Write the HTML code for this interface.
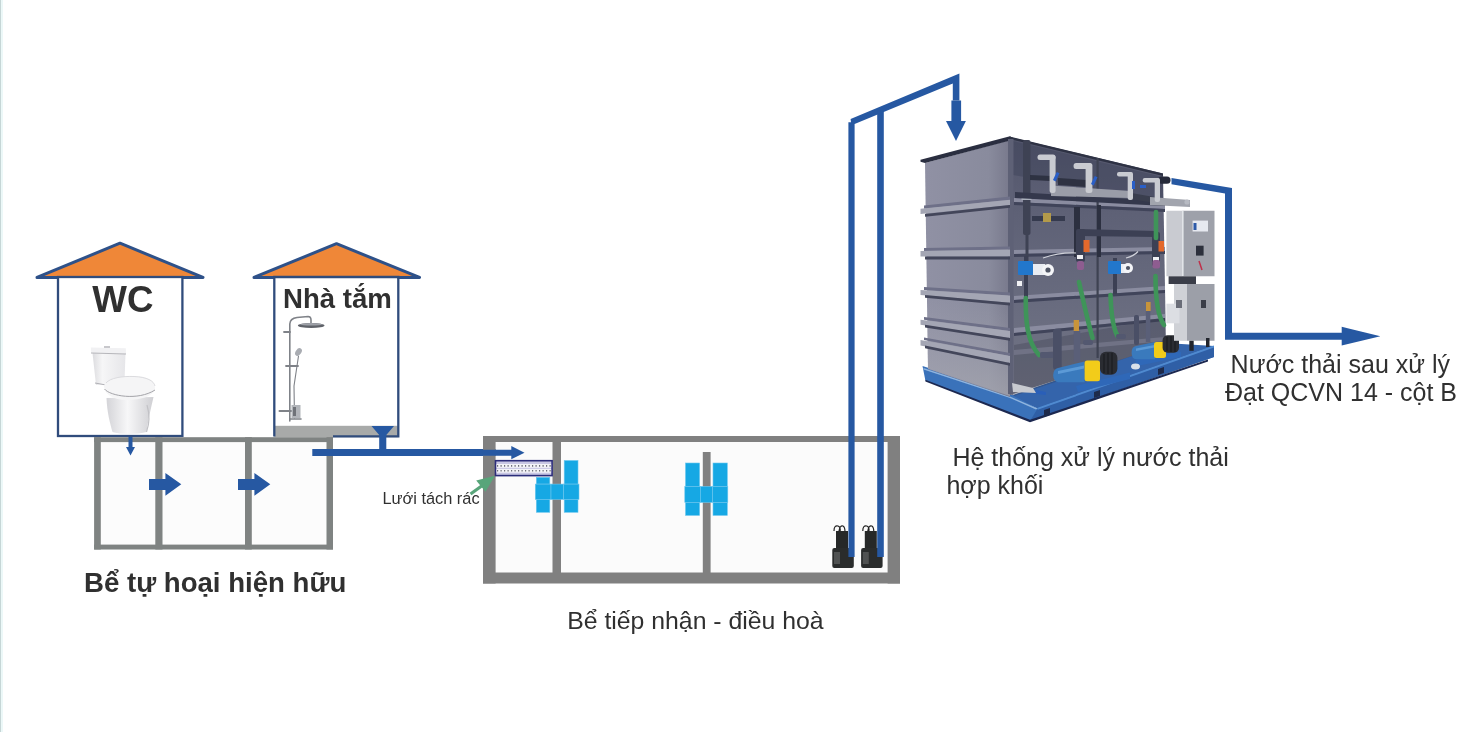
<!DOCTYPE html>
<html><head><meta charset="utf-8">
<style>
html,body{margin:0;padding:0;background:#fff;}
body{width:1472px;height:732px;overflow:hidden;position:relative;font-family:"Liberation Sans",sans-serif;}
svg{position:absolute;left:0;top:0;will-change:transform;}
</style></head>
<body>
<svg width="1472" height="732" viewBox="0 0 1472 732">
<!-- left edge -->
<rect x="0" y="0" width="1" height="732" fill="#c6d6d6"/>
<rect x="1" y="0" width="2" height="732" fill="#ecf8f8"/>

<!-- WC house -->
<polygon points="37,277.4 120,243.2 203,277.4" fill="#ef8738" stroke="#2e5189" stroke-width="3" stroke-linejoin="round"/>
<rect x="58" y="277" width="124.4" height="159" fill="#fff" stroke="#304c7c" stroke-width="2.3"/>
<!-- toilet -->
<g>
<defs>
<linearGradient id="tg" x1="0" y1="0" x2="1" y2="0"><stop offset="0" stop-color="#dcdcdf"/><stop offset="0.3" stop-color="#f6f6f7"/><stop offset="1" stop-color="#e6e6e9"/></linearGradient>
<linearGradient id="pg" x1="0" y1="0" x2="1" y2="0"><stop offset="0" stop-color="#d4d4d8"/><stop offset="0.45" stop-color="#f7f7f8"/><stop offset="1" stop-color="#cfcfd3"/></linearGradient>
</defs>
<path d="M92.5,353 L125.5,354 L124.5,381 L110,384 L96,385 Z" fill="url(#tg)"/>
<path d="M90.8,347.5 L125.8,348.2 L126,354 L91.2,353.2 Z" fill="#f1f1f3"/>
<path d="M91,353 L126,354" stroke="#a6a6ab" stroke-width="0.8" fill="none"/>
<rect x="104" y="346" width="6" height="2" fill="#c8c8cc"/>
<path d="M95,383 L106,385" stroke="#b0b0b5" stroke-width="1" fill="none"/>
<path d="M106.5,398 C107,412 110,423 112.5,432 C120,434.5 138,434.5 146.5,432 C148,420 151,408 153.5,397 Z" fill="url(#pg)"/>
<path d="M104,386 C105,379 118,375.5 134,376 C149,376.5 155.5,381 155,388 C154.5,396 141,400 127,400 C113,400 104,394 104,386 Z" fill="#f5f5f6"/>
<path d="M104.5,389 C110,396 138,401 155,390" stroke="#a4a4a9" stroke-width="1" fill="none"/>
<path d="M106,383 C110,378 122,376 134,376.5 C147,377 154,381 155,386" stroke="#d0d0d4" stroke-width="0.7" fill="none"/>
<path d="M147,405 C150,415 149,425 146.5,432" stroke="#c2c2c6" stroke-width="1.2" fill="none"/>
</g>
<text x="92.3" y="312" font-family="Liberation Sans" font-weight="bold" font-size="37.8" textLength="61.2" lengthAdjust="spacingAndGlyphs" fill="#303030">WC</text>

<!-- Bath house -->
<polygon points="254,277.4 336.5,243.7 419.5,277.4" fill="#ef8738" stroke="#2e5189" stroke-width="3" stroke-linejoin="round"/>
<rect x="274" y="277" width="123.5" height="159" fill="#fff"/>
<rect x="274.3" y="425.8" width="124" height="11.4" fill="#a8aaa9"/>
<path d="M333,436.4 L398.3,436.4 L398.3,277 L274.3,277 L274.3,436.4" fill="none" stroke="#304c7c" stroke-width="2.3"/>
<!-- shower -->
<g fill="none" stroke="#7f8288" stroke-linecap="round">
<path d="M289.8,421 L289.8,324 Q290,318.5 297,317.5 L308,316.5 Q311,316.5 311,320 L311,323" stroke-width="1.6"/>
<path d="M294.5,418 L294,386 L298.5,356" stroke-width="1.1"/>
<line x1="284" y1="332" x2="290" y2="332" stroke-width="1.8"/>
<line x1="286" y1="366" x2="298" y2="366" stroke-width="1.8"/>
<line x1="279.5" y1="411" x2="292" y2="411" stroke-width="2"/>
<line x1="290" y1="419" x2="301" y2="419" stroke-width="1.6"/>
</g>
<ellipse cx="311.2" cy="325.5" rx="13.3" ry="2.6" fill="#5f6269"/>
<ellipse cx="311.2" cy="324.3" rx="11" ry="1.2" fill="#9ea1a8"/>
<ellipse cx="298.5" cy="352" rx="2.8" ry="4.2" fill="#a9acb2" transform="rotate(35 298.5 352)"/>
<rect x="291.5" y="405" width="9" height="13" fill="#b2b5ba"/>
<rect x="293" y="407" width="3" height="9" fill="#6f7278"/>
<text x="283" y="308" font-family="Liberation Sans" font-weight="bold" font-size="27.6" fill="#303030">Nhà tắm</text>

<!-- Septic tank -->
<rect x="94.1" y="437.2" width="238.9" height="112.3" fill="#fcfcfc"/>
<g fill="#7f8382">
<rect x="94.1" y="437.2" width="238.9" height="4.9"/>
<rect x="94.1" y="544.6" width="238.9" height="4.9"/>
<rect x="94.1" y="437.2" width="6.7" height="112.3"/>
<rect x="326.5" y="437.2" width="6.5" height="112.3"/>
<rect x="155.3" y="437.2" width="7.2" height="112.3"/>
<rect x="245" y="437.2" width="6.8" height="112.3"/>
</g>
<polygon points="149,479 165.4,479 165.4,473 181.3,484.3 165.4,495.7 165.4,490 149,490" fill="#2658a2"/>
<polygon points="238,479 254.4,479 254.4,473 270.3,484.3 254.4,495.7 254.4,490 238,490" fill="#2658a2"/>
<polygon points="128.5,437 132.5,437 132.5,447 135,447 130.5,455.6 126,447 128.5,447" fill="#2658a2"/>
<text x="84" y="592" font-family="Liberation Sans" font-weight="bold" font-size="27.6" fill="#303030">Bể tự hoại hiện hữu</text>

<!-- funnel + pipe -->
<path d="M371.5,426 L394,426 L386.3,435 L386.3,452 L379.2,452 L379.2,435 Z" fill="#2658a2"/>
<polygon points="312.3,449 511.3,449 511.3,446 524.5,452.6 511.3,459.3 511.3,456 312.3,456" fill="#2658a2"/>

<!-- Receiving tank -->
<rect x="495.6" y="442" width="392" height="130.5" fill="#fbfbfb"/>
<rect x="483" y="436" width="417" height="6" fill="#808080"/>
<rect x="483" y="436" width="12.6" height="147.5" fill="#808080"/>
<rect x="887.6" y="436" width="12.4" height="147.5" fill="#808080"/>
<rect x="483" y="572.5" width="417" height="11" fill="#808080"/>
<rect x="552.5" y="436" width="8.5" height="140" fill="#808080"/>
<rect x="702.8" y="452" width="7.8" height="124" fill="#808080"/>
<!-- pipe arrow over left wall -->
<polygon points="483,449.7 511.3,449.7 511.3,446 524.5,452.8 511.3,459.3 511.3,455.8 483,455.8" fill="#2658a2"/>

<!-- screen -->
<rect x="495.5" y="460.7" width="56.6" height="14.9" fill="#c9c7e4" stroke="#2c2d7a" stroke-width="1.6"/>
<rect x="496.6" y="464" width="54.5" height="3.8" fill="#f4f4f8"/>
<rect x="496.6" y="468.9" width="54.5" height="3.8" fill="#f4f4f8"/>
<line x1="497" y1="465.9" x2="551" y2="465.9" stroke="#6f6f7a" stroke-width="1.6" stroke-dasharray="1.2 2.3"/>
<line x1="497" y1="470.8" x2="551" y2="470.8" stroke="#6f6f7a" stroke-width="1.6" stroke-dasharray="1.2 2.3"/>

<!-- green arrow -->
<line x1="470.5" y1="494" x2="483" y2="485" stroke="#58a57a" stroke-width="3.2"/>
<polygon points="494.9,475.7 476.2,480.5 485.5,491.8" fill="#58a57a"/>
<text x="382.5" y="504" font-family="Liberation Sans" font-size="16.35" fill="#303030">Lưới tách rác</text>

<!-- cyan blocks left group -->
<g fill="#16a8e4" stroke="#6cc6ee" stroke-width="0.6">
<rect x="536.3" y="477.3" width="13.5" height="6.8"/>
<rect x="564.2" y="460.5" width="13.8" height="23.6"/>
<rect x="535.3" y="484.1" width="15.7" height="15.3"/>
<rect x="551" y="484.1" width="12.5" height="15.3"/>
<rect x="563.5" y="484.1" width="15.5" height="15.3"/>
<rect x="536.3" y="499.4" width="13.5" height="12.9"/>
<rect x="564.2" y="499.4" width="13.8" height="12.9"/>
</g>
<!-- cyan blocks right group -->
<g fill="#16a8e4" stroke="#6cc6ee" stroke-width="0.6">
<rect x="685.5" y="463" width="14.1" height="23.4"/>
<rect x="713" y="463" width="14.3" height="23.4"/>
<rect x="684.8" y="486.4" width="15.5" height="16"/>
<rect x="700.3" y="486.4" width="12.2" height="16"/>
<rect x="712.5" y="486.4" width="15.3" height="16"/>
<rect x="685.5" y="502.4" width="14.1" height="13"/>
<rect x="713" y="502.4" width="14.3" height="13"/>
</g>

<!-- pumps -->
<g id="pump1">
<path d="M834,531 q0,-6 4,-5 q3,1 2,6 M839,531 q1,-6 4,-5 q2,1 2,6" fill="none" stroke="#222" stroke-width="1.2"/>
<rect x="836" y="531" width="12" height="17" fill="#262828"/>
<rect x="832.3" y="548" width="21.5" height="20" rx="2" fill="#2a2c2c"/>
<rect x="834" y="552" width="6" height="12" fill="#505252"/>
</g>
<g transform="translate(28.8,0)">
<path d="M834,531 q0,-6 4,-5 q3,1 2,6 M839,531 q1,-6 4,-5 q2,1 2,6" fill="none" stroke="#222" stroke-width="1.2"/>
<rect x="836" y="531" width="12" height="17" fill="#262828"/>
<rect x="832.3" y="548" width="21.5" height="20" rx="2" fill="#2a2c2c"/>
<rect x="834" y="552" width="6" height="12" fill="#505252"/>
</g>

<!-- vertical pipes -->
<path d="M848.4,557 L848.4,122.2 L851,122.2 L850.6,118.9 L959.4,73.6 L959.4,100.6 L952.8,100.6 L952.8,83.4 L854.6,123.9 L854.6,557 Z" fill="#2658a2"/>
<rect x="877.2" y="111" width="6.6" height="446" fill="#2658a2"/>
<polygon points="951.4,100.6 961.1,100.6 961.1,121 965.9,121 956,141 946,121 951.4,121" fill="#2658a2"/>

<!-- output pipe -->
<path d="M1171.5,178 L1232,187.9 L1232,332.7 L1341.7,332.7 L1341.7,326.8 L1380.4,336.2 L1341.7,345.6 L1341.7,339.7 L1225,339.7 L1225,193.6 L1171.5,184.2 Z" fill="#2658a2"/>

<text x="1230.6" y="372.8" font-family="Liberation Sans" font-size="25" fill="#303030">Nước thải sau xử lý</text>
<text x="1225" y="400.8" font-family="Liberation Sans" font-size="25" fill="#303030">Đạt QCVN 14 - cột B</text>
<text x="952.4" y="466" font-family="Liberation Sans" font-size="25" fill="#303030">Hệ thống xử lý nước thải</text>
<text x="946.4" y="493.8" font-family="Liberation Sans" font-size="25" fill="#303030">hợp khối</text>
<text x="567.2" y="629.4" font-family="Liberation Sans" font-size="24.8" fill="#303030">Bể tiếp nhận - điều hoà</text>

<!-- TREATMENT UNIT -->
<g id="unit">
<defs>
<linearGradient id="lf" x1="0" y1="0" x2="1" y2="0">
<stop offset="0" stop-color="#9091a4"/><stop offset="0.75" stop-color="#898b9d"/><stop offset="1" stop-color="#78798c"/>
</linearGradient>
<linearGradient id="rf" x1="0" y1="0" x2="0" y2="1">
<stop offset="0" stop-color="#52556b"/><stop offset="0.3" stop-color="#5e6176"/><stop offset="0.7" stop-color="#6a6d80"/><stop offset="1" stop-color="#727484"/>
</linearGradient>
</defs>
<!-- blue base -->
<polygon points="1010,396 1165,343 1214,346 1037.6,408.6" fill="#3464ab"/>
<polygon points="922.5,366 1010,394 1037.6,408.6 1214,346 1214,357 1030,421 925.4,380.6" fill="#3a72ba"/>
<polygon points="1037.6,408.6 1214,346 1214,357 1030,421" fill="#2f5fa6"/>
<polygon points="923.5,368 1010,396.5 1037.6,408.6 1036,409.5 1010,398 923.5,369.5" fill="#8fb4de"/>
<polygon points="1037.6,407.8 1214,345.5 1214,347.5 1037.6,409.8" fill="#4f8ad0"/>
<polygon points="925.4,379.8 1030,419.8 1208,359.5 1208,361.5 1030,422.3 925.4,381.5" fill="#1c2850"/>
<rect x="1044" y="410" width="6" height="7" fill="#1e2a4a" transform="skewY(-19)" transform-origin="1044 410"/>
<rect x="1094" y="392" width="6" height="6" fill="#1e2a4a" transform="skewY(-19)" transform-origin="1094 392"/>
<rect x="1158" y="369" width="6" height="6" fill="#1e2a4a" transform="skewY(-19)" transform-origin="1158 369"/>
<!-- right face -->
<polygon points="1009.5,137 1163,173.5 1166,345 1010,395" fill="url(#rf)"/>
<!-- shadow zones on right face -->
<polygon points="1013,141 1163,177 1163,200 1013,175" fill="#3a3e56" opacity="0.4"/>
<!-- left face -->
<polygon points="925,163 1010,140 1010,397 928,369" fill="url(#lf)"/>
<defs><linearGradient id="lfv" x1="0" y1="0" x2="0" y2="1"><stop offset="0" stop-color="#a6a7b4" stop-opacity="0"/><stop offset="0.6" stop-color="#a6a7b4" stop-opacity="0"/><stop offset="1" stop-color="#a9aab2" stop-opacity="0.7"/></linearGradient></defs>
<polygon points="925,163 1010,140 1010,396 928,368.5" fill="url(#lfv)"/>
<polygon points="920.5,159.8 1010,136.3 1013,138 1013,139.8 925,163 920.5,161.8" fill="#2a2e40"/>
<polygon points="1163,173.5 1009.5,136.5 1009.5,139 1163,176" fill="#2e3244"/>
<!-- corner column -->
<polygon points="1008,139 1013.5,139 1013.5,395 1008,394" fill="#5e6176"/>
<!-- ribs left face -->
<g fill="#6e7088">
<polygon points="924,205.5 1010,196.5 1010,199.7 924,208.7"/>
<polygon points="924,248 1010,246.5 1010,249.5 924,251"/>
<polygon points="924,287 1010,292.5 1010,295.6 924,290"/>
<polygon points="924,317 1010,328 1010,331 924,319.8"/>
<polygon points="924,337.5 1010,353 1010,356 924,340"/>
</g>
<g fill="#a4a6b4">
<polygon points="920.5,208.7 1010,199.7 1010,205 920.5,214"/>
<polygon points="920.5,251 1010,249.5 1010,256.6 920.5,256.6"/>
<polygon points="920.5,290 1010,295.6 1010,302.7 920.5,295"/>
<polygon points="920.5,319.8 1010,331 1010,338 920.5,324.8"/>
<polygon points="920.5,340 1010,356 1010,363 920.5,345.4"/>
</g>
<g fill="#43465a">
<polygon points="925,214 1010,205 1010,207.8 925,216.8"/>
<polygon points="925,256.6 1010,256.6 1010,259.4 925,259.4"/>
<polygon points="925,295 1010,302.7 1010,305.5 925,297.8"/>
<polygon points="925,324.8 1010,338 1010,340.8 925,327.6"/>
<polygon points="925,345.4 1010,363 1010,365.8 925,348.2"/>
</g>
<!-- ribs right face -->
<g fill="#8a8ca0">
<polygon points="1014,198 1165,204.5 1165,209 1014,202"/>
<polygon points="1014,250 1165,247 1165,251 1014,254"/>
<polygon points="1014,296 1165,286 1165,290 1014,300"/>
<polygon points="1014,328 1165,314 1165,318 1014,333"/>
<polygon points="1014,350 1165,337 1165,341 1014,355"/>
</g>
<g fill="#40445a">
<polygon points="1014,202 1165,209 1165,212 1014,205"/>
<polygon points="1014,254 1165,251 1165,254 1014,257"/>
<polygon points="1014,300 1165,290 1165,293 1014,303"/>
<polygon points="1014,333 1165,318 1165,321 1014,336"/>
</g>
<!-- shadow behind pumps -->
<polygon points="1014,345 1165,318 1165,345 1014,396" fill="#34374a" opacity="0.3"/>
<!-- vertical seam right face -->
<rect x="1096.5" y="158" width="2.2" height="200" fill="#3e4252"/>
<!-- dark vertical pipe -->
<rect x="1023" y="140" width="7.5" height="95" fill="#3e4254" rx="2"/>
<rect x="1025.5" y="235" width="3" height="40" fill="#3e4254"/>
<rect x="1021.5" y="197" width="10" height="3" fill="#aab0bc"/>
<polygon points="1015,192 1165,201 1165,206 1015,198" fill="#34384c"/>
<!-- top pipes -->
<polygon points="1030,175 1051,176 1051,181 1030,180" fill="#2e3242"/>
<polygon points="1058,178 1087,180 1087,187 1058,185" fill="#2e3242"/>
<polygon points="1051,185.6 1131,191 1131,198 1051,196" fill="#9a9da8"/>
<polygon points="1131,193 1166,199 1166,205 1131,199" fill="#3a3e4e"/>
<polygon points="1150,197 1190,200 1190,207 1150,205" fill="#a2a5ae"/>
<circle cx="1187" cy="202" r="2.6" fill="#b7bac2"/>
<rect x="1158" y="176.4" width="12.5" height="7.4" rx="3.5" fill="#262a3a"/>
<g fill="#c9cbd1">
<rect x="1037.5" y="154.5" width="18" height="5.5" rx="2.5"/>
<rect x="1049.6" y="155" width="6" height="38" rx="2.5"/>
<rect x="1073.6" y="163" width="18" height="6" rx="2.5"/>
<rect x="1085.6" y="163" width="6.8" height="30" rx="2.5"/>
<rect x="1117" y="172" width="15" height="4.6" rx="2"/>
<rect x="1127.7" y="172" width="5.3" height="28" rx="2"/>
<rect x="1142.7" y="178" width="16.5" height="4.6" rx="2"/>
<rect x="1154.7" y="178" width="5.3" height="24" rx="2"/>
</g>
<g fill="#2a5fc8">
<rect x="1055" y="172" width="3" height="9" transform="rotate(25 1056 176)"/>
<rect x="1093" y="176" width="3" height="9" transform="rotate(25 1094 180)"/>
<rect x="1132" y="181" width="3" height="8"/>
<rect x="1140" y="185" width="6" height="3"/>
</g>
<!-- valves row -->
<rect x="1032" y="216" width="33" height="5" fill="#353a4e"/>
<rect x="1043" y="213" width="8" height="9" fill="#b39a4a"/>
<rect x="1074" y="207" width="6" height="50" fill="#2c3040"/>
<rect x="1097" y="205" width="4" height="52" fill="#2c3040"/>
<path d="M1043,258 Q1060,252 1077,253" stroke="#d0d2da" stroke-width="1.2" fill="none"/>
<path d="M1126,258 Q1134,256 1138,251.5" stroke="#d0d2da" stroke-width="1.2" fill="none"/>
<!-- horizontal dark pipe -->
<polygon points="1078,229 1157,231 1157,237 1078,236" fill="#3c4054"/>
<rect x="1076" y="229" width="9" height="33" fill="#3c4054" rx="2"/>
<rect x="1152" y="232" width="8" height="34" fill="#3c4054" rx="2"/>
<rect x="1083.5" y="240" width="6" height="12" fill="#e3692c"/>
<rect x="1158.5" y="241" width="5.5" height="10.5" fill="#e3692c"/>
<rect x="1077" y="255" width="6" height="4" fill="#f0f0f4"/>
<rect x="1153" y="257" width="6" height="4" fill="#f0f0f4"/>
<rect x="1077" y="261" width="7" height="9" fill="#8e5d90" rx="2"/>
<rect x="1152.5" y="260" width="7.5" height="8.5" fill="#8e5d90" rx="2"/>
<!-- flow meters -->
<rect x="1024" y="256" width="4" height="44" fill="#3c4054"/>
<rect x="1113" y="258" width="4" height="36" fill="#3c4054"/>
<rect x="1018" y="261" width="15" height="14" fill="#2277cc" rx="1"/>
<rect x="1033" y="264" width="12" height="11" fill="#e9ecf2"/>
<circle cx="1048" cy="270" r="6" fill="#f4f5f8"/>
<circle cx="1048" cy="270" r="2.6" fill="#505666"/>
<rect x="1108" y="261" width="13" height="13" fill="#2277cc" rx="1"/>
<rect x="1121" y="264" width="8" height="9" fill="#e9ecf2"/>
<circle cx="1128" cy="268" r="5" fill="#f4f5f8"/>
<circle cx="1128" cy="268" r="2.1" fill="#505666"/>
<rect x="1017" y="281" width="5" height="5" fill="#f0f0f4"/>
<!-- hoses -->
<g fill="none" stroke="#3f9459" stroke-width="4.6" stroke-linecap="round">
<path d="M1025.8,298 C1025.5,320 1027,342 1039,355"/>
<path d="M1079,282 C1083,300 1088,322 1092.5,338"/>
<path d="M1110.5,295 C1111,312 1113,328 1117.5,336"/>
<path d="M1155.5,276 C1155.5,295 1157,315 1164,325"/>
<path d="M1156,212 L1156,238"/>
</g>
<!-- grey fittings near pumps -->
<g fill="#535870">
<rect x="1040" y="352" width="14" height="6" rx="2"/>

<rect x="1083" y="340" width="10" height="5" rx="2"/>

<rect x="1116" y="334" width="10" height="5" rx="2"/>
</g>

<!-- nozzle -->
<polygon points="1012,383 1033,388 1036,393 1013,392" fill="#c8cad0"/>
<polygon points="1036,390 1046,392 1046,395 1036,394" fill="#2a5fb8"/>
<!-- pump 1 -->
<rect x="1053" y="328.7" width="8.7" height="41" rx="3" fill="#4a4f66"/>
<rect x="1073.7" y="331" width="6.6" height="31" fill="#5a5f78"/>
<rect x="1073.7" y="320" width="5.3" height="11" fill="#c8943a"/>
<polygon points="1076,386 1130,372.5 1130,379 1078,392" fill="#2f68b8"/>
<path d="M1058,368 L1084.6,361.5 L1084.6,382.3 L1058,382.3 A5.5,7.2 0 0 1 1058,368 Z" fill="#3a7abd"/>
<path d="M1058,371 L1084,365.5 L1084,368.5 L1058,374 Z" fill="#5c9ad6"/>
<rect x="1084.6" y="360.4" width="15.4" height="20.8" rx="2.5" fill="#f2cc1a"/>
<rect x="1100" y="351.7" width="17.4" height="23" rx="6" fill="#2a2c32"/>
<g stroke="#17181c" stroke-width="1"><line x1="1104" y1="354" x2="1104" y2="373"/><line x1="1108" y1="353" x2="1108" y2="374"/><line x1="1112" y1="353" x2="1112" y2="374"/></g>
<!-- pump 2 -->
<rect x="1134" y="315" width="5" height="30" rx="2" fill="#4a4f66"/>
<rect x="1145.8" y="311" width="4.5" height="31" fill="#5a5f78"/>
<rect x="1146" y="302" width="4.6" height="9" fill="#c8943a"/>
<polygon points="1135,360 1181,351.7 1181,357 1137,366" fill="#2f68b8"/>
<path d="M1136,346 L1155,342 L1155,359.3 L1136,359.3 A5,6.7 0 0 1 1136,346 Z" fill="#3a7abd"/>
<path d="M1136,348.5 L1154.5,345 L1154.5,347.5 L1136,351 Z" fill="#5c9ad6"/>
<rect x="1154" y="342" width="12" height="16" rx="2.5" fill="#f2cc1a"/>
<rect x="1162.6" y="335.3" width="16.4" height="17.5" rx="5" fill="#2a2c32"/>
<g stroke="#17181c" stroke-width="1"><line x1="1167" y1="337" x2="1167" y2="351"/><line x1="1171" y1="336" x2="1171" y2="352"/><line x1="1175" y1="336" x2="1175" y2="352"/></g>
<ellipse cx="1135.5" cy="366.5" rx="4.5" ry="3" fill="#d8e0ea"/>
<!-- control boxes -->
<polygon points="1166.4,210.8 1182.8,210.8 1182.8,276.3 1166.4,276.3" fill="#c9cbd1"/>
<polygon points="1182.8,210.8 1214.5,210.8 1214.5,276.3 1182.8,276.3" fill="#9ea1aa"/>
<rect x="1182" y="210.8" width="1.6" height="65.5" fill="#e2e4e8"/>
<rect x="1192.6" y="220.6" width="15.4" height="10.9" fill="#e6e9f0"/>
<rect x="1193.5" y="223" width="3" height="7" fill="#2d5aa8"/>
<rect x="1196" y="245.7" width="7.6" height="9.9" fill="#2c303c"/>
<line x1="1199" y1="261" x2="1202" y2="270" stroke="#c0304a" stroke-width="1.5"/>
<rect x="1168.6" y="276.3" width="27.4" height="7.7" fill="#3a3d48"/>
<polygon points="1174,284 1187,284 1187,340.8 1174,340.8" fill="#cfd1d6"/>
<polygon points="1187,284 1214.5,284 1214.5,340.8 1187,340.8" fill="#9c9fa8"/>
<rect x="1201" y="300" width="5" height="8" fill="#3a3d48"/>
<rect x="1166.4" y="303.7" width="13.1" height="19.6" fill="#dcdee3"/>
<rect x="1176" y="300" width="6" height="8" fill="#6a6d78"/>
<rect x="1189.3" y="340.8" width="4.4" height="10" fill="#22252d"/>
<rect x="1206" y="338" width="3.5" height="9" fill="#22252d"/>
</g>
</svg>
</body></html>
